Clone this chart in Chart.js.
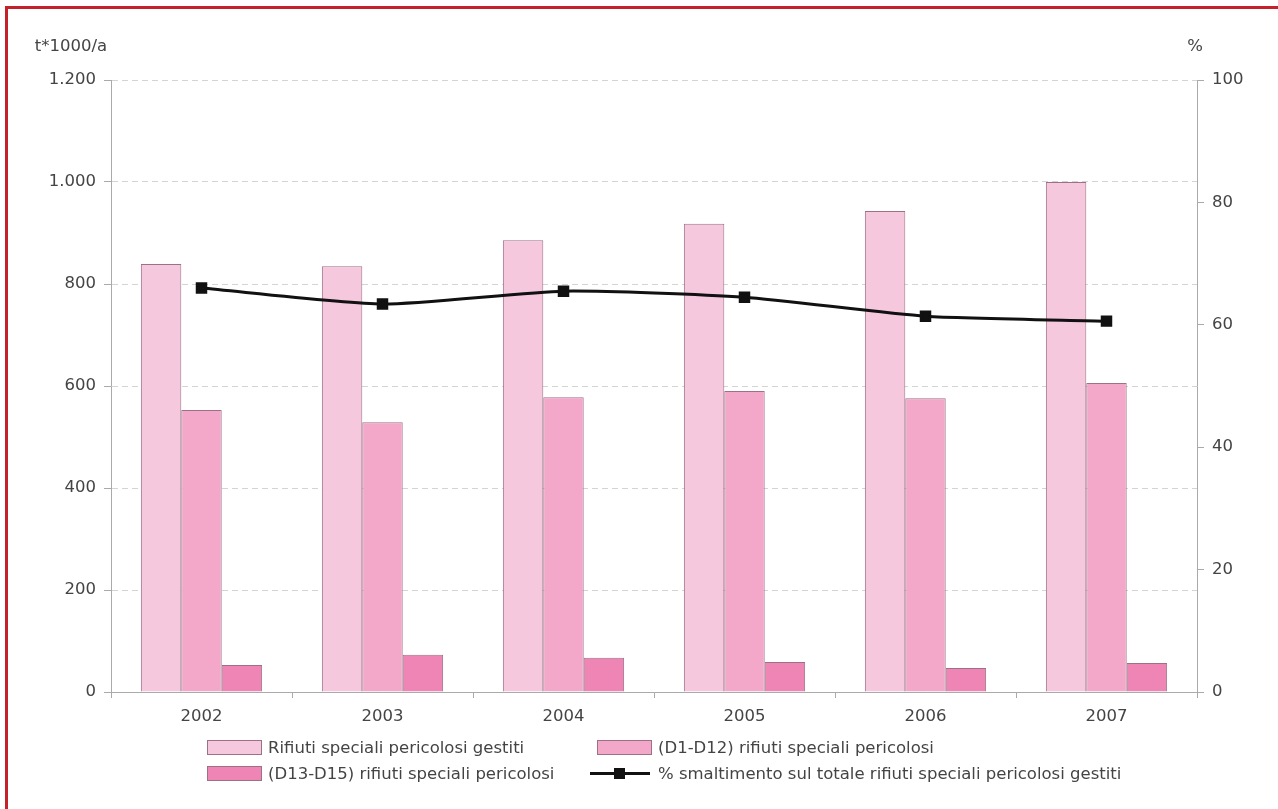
<!DOCTYPE html>
<html>
<head>
<meta charset="utf-8">
<script src="https://cdn.jsdelivr.net/npm/chart.js@4/dist/chart.umd.min.js"></script>
<style>
  html, body { margin: 0; padding: 0; background: #fff; }
  #wrap { position: relative; width: 1278px; height: 809px; overflow: hidden; }
  #frameTop { position: absolute; left: 5px; top: 6px; width: 1273px; height: 3px; background: #c4212b; }
  #frameLeft { position: absolute; left: 5px; top: 6px; width: 3px; height: 803px; background: #c4212b; }
  #chartBox { position: absolute; left: 0; top: 0; width: 1278px; height: 809px; }
  #legend { position: absolute; left: 207px; top: 738px; display: grid;
    grid-template-columns: 390px 580px; row-gap: 8px;
    font-family: "DejaVu Sans", sans-serif; font-size: 16.5px; color: #444; }
  .item { display: flex; align-items: center; height: 18px; white-space: nowrap; }
  .box { width: 53px; height: 13px; margin-right: 6px; border: 1px solid #9c7085; }
  .lineSym { position: relative; width: 60px; height: 13px; margin-right: 8px; margin-left: -7px; }
  .lineSym::before { content: ""; position: absolute; left: 0; right: 0; top: 5px; height: 3px; background: #111; }
  .lineSym::after { content: ""; position: absolute; left: 24px; top: 1px; width: 11px; height: 11px; background: #111; }
</style>
</head>
<body>
<div id="wrap">
  <div id="chartBox"><canvas id="c"></canvas></div>
  <div id="frameTop"></div>
  <div id="frameLeft"></div>
  <div id="legend"></div>
</div>
<script>
const years = ['2002', '2003', '2004', '2005', '2006', '2007'];
const gestiti = [839, 835, 886, 918, 943, 1000];
const d1d12 = [553, 529, 578, 590, 576, 606];
const d13d15 = [53, 73, 67, 59, 47, 57];
const pctSmaltimento = [66.0, 63.4, 65.5, 64.5, 61.4, 60.6];

const leftTicks = [0, 200, 400, 600, 800, 1000, 1200];
const rightTicks = [0, 20, 40, 60, 80, 100];

const FONT = '"DejaVu Sans", sans-serif';
const FSIZE = 16.5;
const border = '#9c7085';

const axisTitles = {
  id: 'axisTitles',
  afterDraw(chart) {
    const { ctx, chartArea } = chart;
    ctx.save();
    ctx.font = FSIZE + 'px ' + FONT;
    ctx.fillStyle = '#444';
    ctx.textBaseline = 'middle';
    ctx.textAlign = 'center';
    ctx.fillText('t*1000/a', chartArea.left - 40, chartArea.top - 33);
    ctx.fillText('%', chartArea.right - 2, chartArea.top - 33);
    ctx.restore();
  }
};

const chart = new Chart(document.getElementById('c'), {
  data: {
    labels: years,
    datasets: [
      {
        type: 'line', label: '% smaltimento sul totale rifiuti speciali pericolosi gestiti',
        data: pctSmaltimento, yAxisID: 'y1', borderColor: '#111', backgroundColor: '#111',
        borderWidth: 3, pointStyle: 'rect', pointRadius: 6, tension: 0.2, order: 0
      },
      {
        type: 'bar', label: 'Rifiuti speciali pericolosi gestiti', data: gestiti, yAxisID: 'y',
        backgroundColor: '#f6c8dd', borderColor: border, borderWidth: 1, order: 1
      },
      {
        type: 'bar', label: '(D1-D12) rifiuti speciali pericolosi', data: d1d12, yAxisID: 'y',
        backgroundColor: '#f3a8c9', borderColor: border, borderWidth: 1, order: 1
      },
      {
        type: 'bar', label: '(D13-D15) rifiuti speciali pericolosi', data: d13d15, yAxisID: 'y',
        backgroundColor: '#ef85b4', borderColor: border, borderWidth: 1, order: 1
      }
    ]
  },
  options: {
    responsive: true,
    maintainAspectRatio: false,
    animation: false,
    layout: { padding: { top: 80, left: 0, right: 0, bottom: 0 } },
    datasets: { bar: { categoryPercentage: 0.67, barPercentage: 1.0 } },
    plugins: { legend: { display: false }, tooltip: { enabled: false } },
    scales: {
      x: {
        offset: true,
        grid: { offset: true, drawOnChartArea: false, color: '#aaa', tickLength: 6 },
        border: { color: '#aaa', width: 1 },
        ticks: { color: '#444', font: { family: FONT, size: FSIZE }, padding: 9 },
        afterFit(s) { s.height = 117; }
      },
      y: {
        position: 'left', min: 0, max: 1200,
        afterBuildTicks(s) { s.ticks = leftTicks.map(v => ({ value: v })); },
        grid: { color: '#d4d4d4', tickColor: '#aaa', tickLength: 7, tickBorderDash: [] },
        border: { color: '#aaa', width: 1, dash: [6, 4] },
        ticks: {
          color: '#444', font: { family: FONT, size: FSIZE }, padding: 8,
          callback: v => v.toLocaleString('it-IT')
        },
        afterFit(s) { s.width = 111; }
      },
      y1: {
        position: 'right', min: 0, max: 100,
        afterBuildTicks(s) { s.ticks = rightTicks.map(v => ({ value: v })); },
        grid: { drawOnChartArea: false, color: '#aaa', tickLength: 7 },
        border: { color: '#aaa', width: 1 },
        ticks: { color: '#444', font: { family: FONT, size: FSIZE }, padding: 8 },
        afterFit(s) { s.width = 81; }
      }
    }
  },
  plugins: [axisTitles]
});

// legend in two columns, built from the chart's datasets
const legendOrder = [1, 2, 3, 0];
const legendEl = document.getElementById('legend');
legendOrder.forEach(i => {
  const ds = chart.data.datasets[i];
  const item = document.createElement('div');
  item.className = 'item';
  const sym = document.createElement('span');
  if (ds.type === 'line') {
    sym.className = 'lineSym';
  } else {
    sym.className = 'box';
    sym.style.background = ds.backgroundColor;
  }
  item.appendChild(sym);
  item.appendChild(document.createTextNode(ds.label));
  legendEl.appendChild(item);
});
</script>
</body>
</html>
